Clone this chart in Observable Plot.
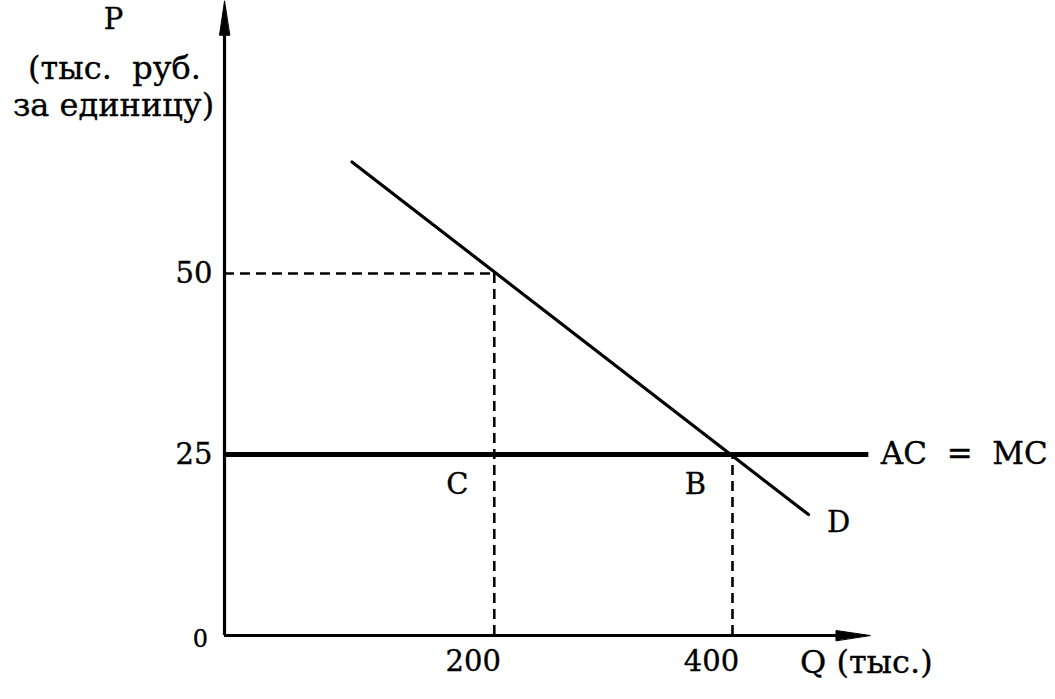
<!DOCTYPE html>
<html>
<head>
<meta charset="utf-8">
<script src="https://cdn.jsdelivr.net/npm/d3@7"></script>
<script src="https://cdn.jsdelivr.net/npm/@observablehq/plot@0.6"></script>
<style>
  html, body { margin: 0; padding: 0; background: #fff; }
</style>
</head>
<body>
<div id="chart"></div>
<script>
// ---- data ----
const qTicks = [200, 400];               // Q (тыс.)
const pTicks = [50, 25];                 // P (тыс. руб. за единицу)
const demand = [                         // D line endpoints
  {q: 88, p: 65.4},
  {q: 466, p: 16.7}
];
const acmc = 25;                         // AC = MC level
const acEnd = 519;                       // AC line right end (Q)
const qMax = 520;                        // x-axis extent
const pMax = 87.6;                       // y-axis extent
const guides = [                         // dashed projections
  {q: 200, p: 50, label: "C"},
  {q: 400, p: 25, label: "B"}
];

const head = {
  draw(context, l, r) {
    context.moveTo(0, -l);
    context.lineTo(-r, 0);
    context.lineTo(r, 0);
    context.closePath();
  }
};

const font = "DejaVu Serif";
const txt = {fill: "#000", stroke: "#000", strokeWidth: 0.35};

const chart = Plot.plot({
  width: 1055,
  height: 699,
  style: {fontFamily: font, background: "#fff", color: "#000"},
  x: {type: "pow", exponent: 0.913, domain: [0, 400], range: [224, 732], axis: null},
  y: {type: "linear", domain: [0, 50], range: [635, 273], axis: null},
  marks: [
    // dashed guides
    Plot.ruleX(guides, {x: "q", y1: 0, y2: "p", stroke: "#000", strokeWidth: 2.6, strokeDasharray: "10,6"}),
    Plot.ruleY(guides.filter(d => d.p !== acmc), {y: "p", x1: 0, x2: "q", stroke: "#000", strokeWidth: 2.6, strokeDasharray: "10,6"}),
    // axes
    Plot.ruleX([0], {y1: 0, y2: pMax - 3, stroke: "#000", strokeWidth: 3.2}),
    Plot.ruleY([0], {x1: 0, x2: qMax - 15, stroke: "#000", strokeWidth: 3.2}),
    Plot.vector([{x: 0, y: pMax}], {x: "x", y: "y", anchor: "end", length: 34, r: 5, rotate: 0, shape: head, fill: "#000", stroke: "#000", strokeWidth: 1}),
    Plot.vector([{x: qMax, y: 0}], {x: "x", y: "y", anchor: "end", length: 34, r: 5, rotate: 90, shape: head, fill: "#000", stroke: "#000", strokeWidth: 1}),
    // AC = MC
    Plot.ruleY([acmc], {x1: 0, x2: acEnd, stroke: "#000", strokeWidth: 4.8}),
    // demand
    Plot.line(demand, {x: "q", y: "p", stroke: "#000", strokeWidth: 3.2}),
    // tick labels
    Plot.text(pTicks, {x: 0, y: d => d, text: d => String(d), dx: -12, textAnchor: "end", fontSize: 29, ...txt}),
    Plot.text([0], {x: 0, y: 0, text: d => String(d), dx: -24, dy: 4, fontSize: 24, ...txt}),
    Plot.text(qTicks, {x: d => d, y: 0, text: d => String(d), dx: -21, dy: 26, fontSize: 29, ...txt}),
    // point labels
    Plot.text(guides, {x: "q", y: acmc, text: "label", dx: -37, dy: 30, fontSize: 29, ...txt}),
    Plot.text([demand[1]], {x: "q", y: "p", text: () => "D", dx: 30, dy: 8, fontSize: 29, ...txt}),
    Plot.text([acmc], {x: acEnd, y: d => d, text: () => "AC\u00a0\u00a0=\u00a0\u00a0MC", dx: 12, textAnchor: "start", fontSize: 31, ...txt}),
    // axis titles
    Plot.text([0], {x: qMax, y: 0, text: () => "Q (тыс.)", dx: -70, dy: 27, textAnchor: "start", fontSize: 32, ...txt}),
    Plot.text([0], {x: 0, y: pMax, text: () => "P", dx: -111, dy: 18, fontSize: 29, ...txt}),
    Plot.text([0], {x: 0, y: pMax, text: () => "(тыс.\u00a0 руб.", dx: -110, dy: 67, fontSize: 32, ...txt}),
    Plot.text([0], {x: 0, y: pMax, text: () => "за единицу)", dx: -111, dy: 104, fontSize: 32, ...txt})
  ]
});
document.getElementById("chart").append(chart);
</script>
</body>
</html>
